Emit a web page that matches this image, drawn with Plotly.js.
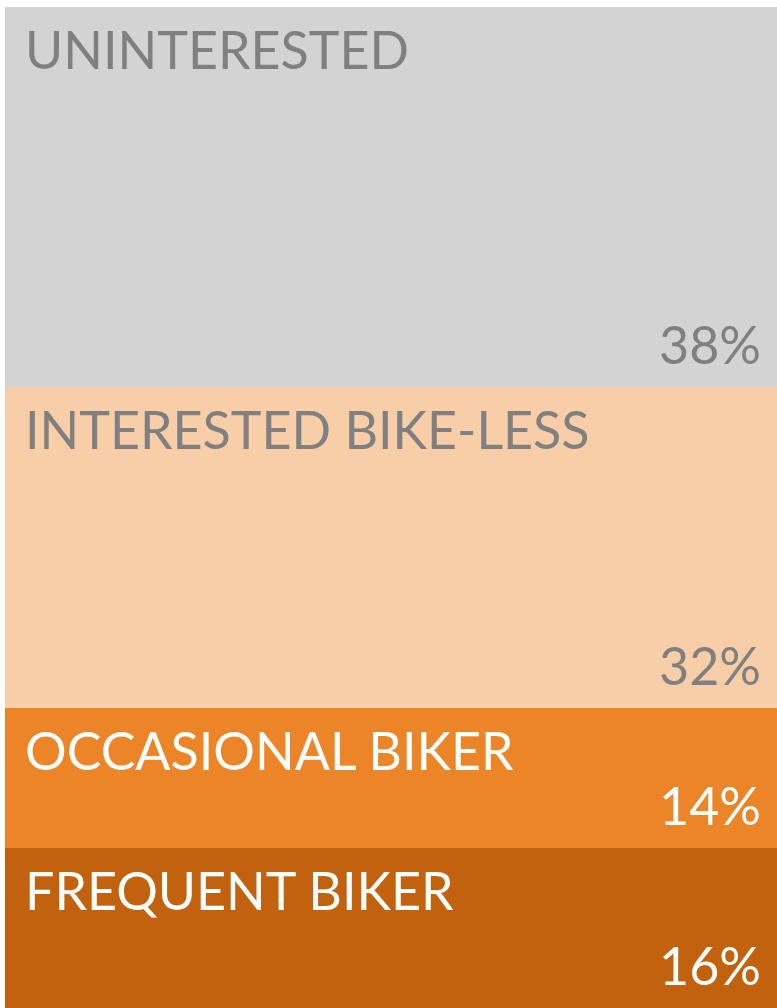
<!DOCTYPE html>
<html>
<head>
<meta charset="utf-8">
<script src="https://cdn.plot.ly/plotly-3.0.1.min.js"></script>
<style>html,body{margin:0;padding:0;background:#fff;}#chart{width:777px;height:1008px;}</style>
</head>
<body>
<div id="chart"></div>
<script>
// Data, bottom to top
const categories = ["FREQUENT BIKER", "OCCASIONAL BIKER", "INTERESTED BIKE-LESS", "UNINTERESTED"];
const shares = [16, 14, 32, 38];
const percentLabels = ["16%", "14%", "32%", "38%"];
const fillColors = ["#c2620e", "#ec8528", "#f7cea8", "#d3d3d3"];
const textColors = ["#ffffff", "#ffffff", "#808080", "#808080"];

const FONT = "Lato, 'Open Sans', sans-serif";
const traces = categories.map((c, i) => ({
  type: "bar",
  x: ["all"],
  y: [shares[i]],
  name: c,
  marker: {color: fillColors[i], line: {width: 0}},
  hoverinfo: "skip"
}));

const annotations = [];
let base = 0;
categories.forEach((c, i) => {
  const bottom = base, top = base + shares[i];
  base = top;
  annotations.push({
    xref: "paper", yref: "y", x: 0, y: top,
    xanchor: "left", yanchor: "top", xshift: 18, yshift: -9,
    text: c, showarrow: false,
    font: {family: FONT, size: 52, color: textColors[i]}
  });
  annotations.push({
    xref: "paper", yref: "y", x: 1, y: bottom,
    xanchor: "right", yanchor: "bottom", xshift: -14, yshift: 10,
    text: percentLabels[i], showarrow: false,
    font: {family: FONT, size: 52, color: textColors[i]}
  });
});

const layout = {
  width: 777, height: 1008,
  margin: {l: 5, r: 0, t: 7, b: 0, pad: 0},
  barmode: "stack", bargap: 0,
  showlegend: false,
  paper_bgcolor: "#ffffff", plot_bgcolor: "#ffffff",
  xaxis: {visible: false, range: [-0.5, 0.5], fixedrange: true},
  yaxis: {visible: false, range: [0, 100], fixedrange: true},
  annotations: annotations
};
Plotly.newPlot("chart", traces, layout, {displayModeBar: false, staticPlot: true});
</script>
</body>
</html>
